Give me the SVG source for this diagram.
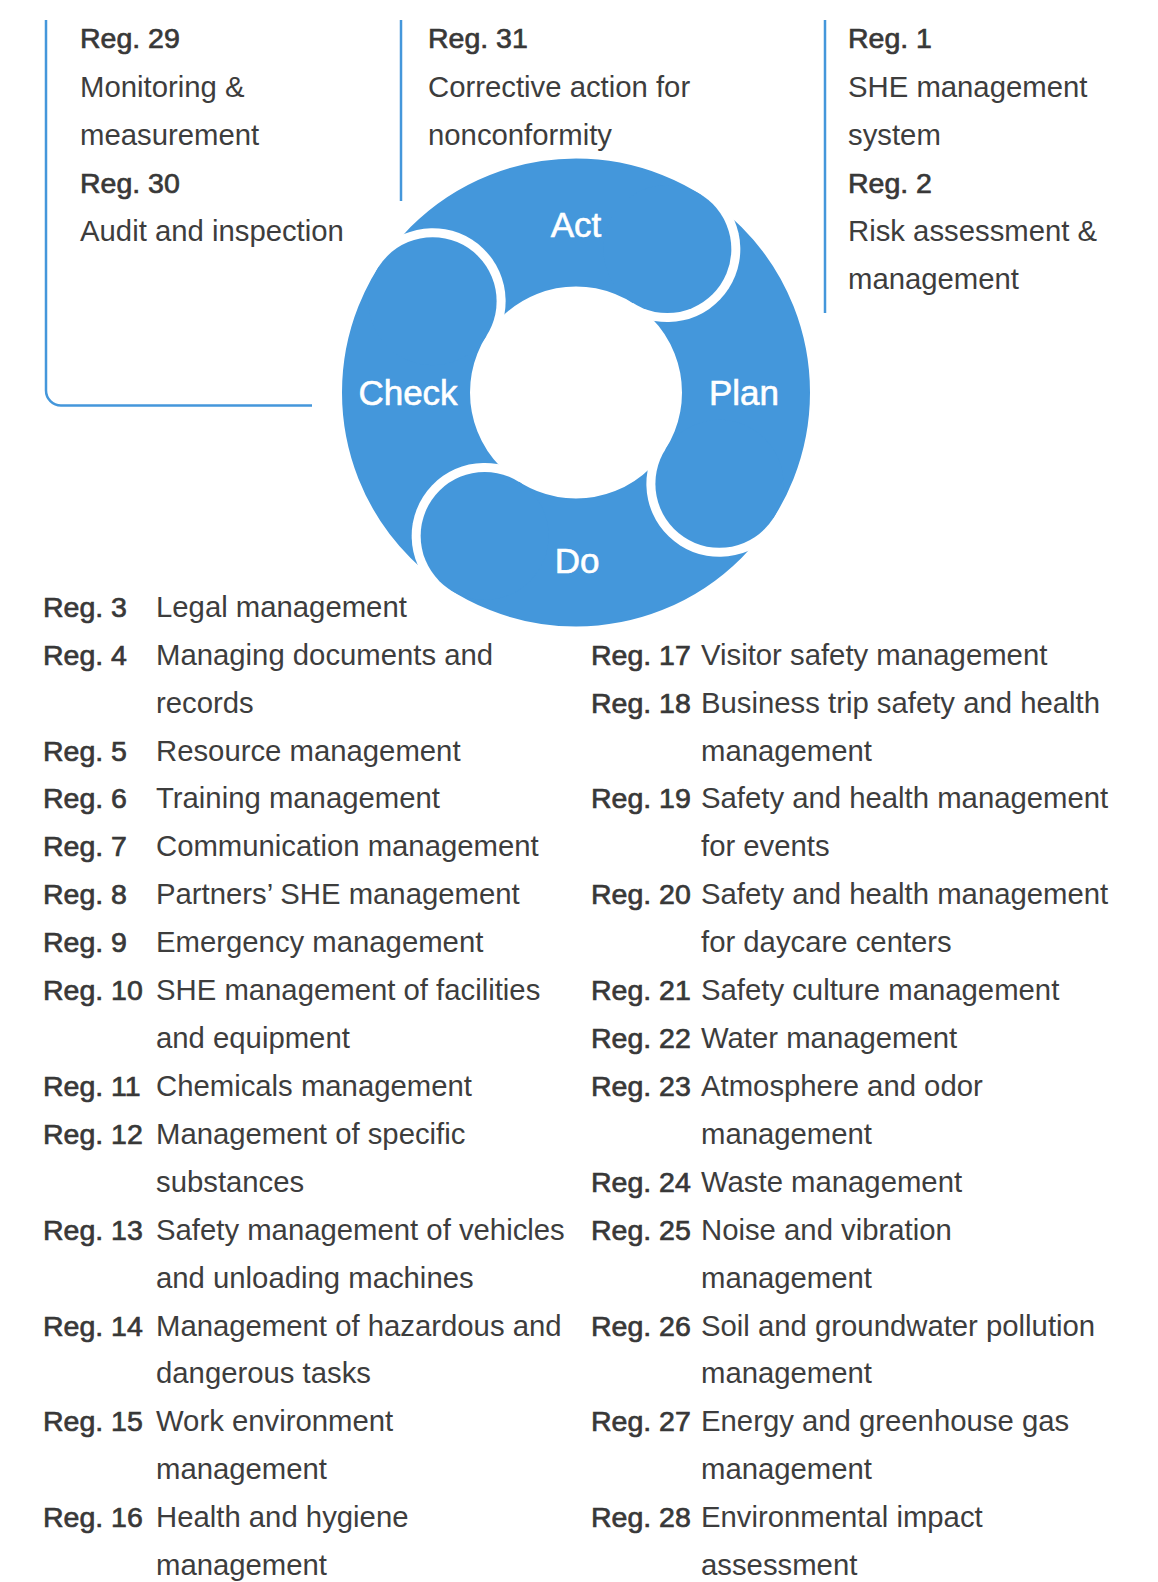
<svg xmlns="http://www.w3.org/2000/svg" width="1158" height="1582" viewBox="0 0 1158 1582">
<style>
.t{font-family:"Liberation Sans",Arial,sans-serif;font-size:29.3px;fill:#3d3d3d}
.r{font-family:"Liberation Sans",Arial,sans-serif;font-size:28.5px;fill:#383838;stroke:#383838;stroke-width:0.7px}
.p{font-family:"Liberation Sans",Arial,sans-serif;font-size:35px;fill:#ffffff;stroke:#ffffff;stroke-width:0.6px;text-anchor:middle}
.ln{fill:none;stroke:#4497DB;stroke-width:2.5}
.bl{fill:#4497DB}
.wh{fill:#ffffff}
</style>
<rect width="1158" height="1582" fill="#ffffff"/>
<g id="connectors">
<path class="ln" d="M46,20 V390.5 A15,15 0 0 0 61,405.5 H312"/>
<line class="ln" x1="401" y1="20" x2="401" y2="201"/>
<line class="ln" x1="825" y1="20" x2="825" y2="313"/>
</g>
<g id="cycle">
<circle cx="576" cy="392.5" r="170" fill="none" stroke="#4497DB" stroke-width="128"/>
<path class="wh" d="M706.56,187.55 A73,73 0 0 1 628.12,310.69 Z"/>
<circle class="bl" cx="667.34" cy="249.12" r="64"/>
<path class="wh" d="M371.05,261.94 A73,73 0 0 1 494.19,340.38 Z"/>
<circle class="bl" cx="432.62" cy="301.16" r="64"/>
<path class="wh" d="M445.44,597.45 A73,73 0 0 1 523.88,474.31 Z"/>
<circle class="bl" cx="484.66" cy="535.88" r="64"/>
<path class="wh" d="M780.95,523.06 A73,73 0 0 1 657.81,444.62 Z"/>
<circle class="bl" cx="719.38" cy="483.84" r="64"/>
</g>
<g id="act"><text class="p" x="576" y="237">Act</text></g>
<g id="plan"><text class="p" x="744" y="405">Plan</text></g>
<g id="do"><text class="p" x="577" y="573">Do</text></g>
<g id="check"><text class="p" x="408" y="405">Check</text></g>
<g id="top-left">
<text class="r" x="80" y="48.3">Reg. 29</text>
<text class="t" x="80" y="96.5">Monitoring &amp;</text>
<text class="t" x="80" y="144.5">measurement</text>
<text class="r" x="80" y="192.5">Reg. 30</text>
<text class="t" x="80" y="240.5">Audit and inspection</text>
</g>
<g id="top-middle">
<text class="r" x="428" y="48.3">Reg. 31</text>
<text class="t" x="428" y="96.5">Corrective action for</text>
<text class="t" x="428" y="144.5">nonconformity</text>
</g>
<g id="top-right">
<text class="r" x="848" y="48.3">Reg. 1</text>
<text class="t" x="848" y="96.5">SHE management</text>
<text class="t" x="848" y="144.5">system</text>
<text class="r" x="848" y="192.5">Reg. 2</text>
<text class="t" x="848" y="240.5">Risk assessment &amp;</text>
<text class="t" x="848" y="288.5">management</text>
</g>
<g id="list-left">
<text class="r" x="43" y="616.7">Reg. 3</text><text class="t" x="156" y="616.7">Legal management</text>
<text class="r" x="43" y="664.6">Reg. 4</text><text class="t" x="156" y="664.6">Managing documents and</text>
<text class="t" x="156" y="712.5">records</text>
<text class="r" x="43" y="760.5">Reg. 5</text><text class="t" x="156" y="760.5">Resource management</text>
<text class="r" x="43" y="808.4">Reg. 6</text><text class="t" x="156" y="808.4">Training management</text>
<text class="r" x="43" y="856.3">Reg. 7</text><text class="t" x="156" y="856.3">Communication management</text>
<text class="r" x="43" y="904.2">Reg. 8</text><text class="t" x="156" y="904.2">Partners’ SHE management</text>
<text class="r" x="43" y="952.1">Reg. 9</text><text class="t" x="156" y="952.1">Emergency management</text>
<text class="r" x="43" y="1000.1">Reg. 10</text><text class="t" x="156" y="1000.1">SHE management of facilities</text>
<text class="t" x="156" y="1048">and equipment</text>
<text class="r" x="43" y="1095.9">Reg. 11</text><text class="t" x="156" y="1095.9">Chemicals management</text>
<text class="r" x="43" y="1143.8">Reg. 12</text><text class="t" x="156" y="1143.8">Management of specific</text>
<text class="t" x="156" y="1191.7">substances</text>
<text class="r" x="43" y="1239.7">Reg. 13</text><text class="t" x="156" y="1239.7">Safety management of vehicles</text>
<text class="t" x="156" y="1287.6">and unloading machines</text>
<text class="r" x="43" y="1335.5">Reg. 14</text><text class="t" x="156" y="1335.5">Management of hazardous and</text>
<text class="t" x="156" y="1383.4">dangerous tasks</text>
<text class="r" x="43" y="1431.3">Reg. 15</text><text class="t" x="156" y="1431.3">Work environment</text>
<text class="t" x="156" y="1479.3">management</text>
<text class="r" x="43" y="1527.2">Reg. 16</text><text class="t" x="156" y="1527.2">Health and hygiene</text>
<text class="t" x="156" y="1575.1">management</text>
</g>
<g id="list-right">
<text class="r" x="591" y="664.6">Reg. 17</text><text class="t" x="701" y="664.6">Visitor safety management</text>
<text class="r" x="591" y="712.5">Reg. 18</text><text class="t" x="701" y="712.5">Business trip safety and health</text>
<text class="t" x="701" y="760.5">management</text>
<text class="r" x="591" y="808.4">Reg. 19</text><text class="t" x="701" y="808.4">Safety and health management</text>
<text class="t" x="701" y="856.3">for events</text>
<text class="r" x="591" y="904.2">Reg. 20</text><text class="t" x="701" y="904.2">Safety and health management</text>
<text class="t" x="701" y="952.1">for daycare centers</text>
<text class="r" x="591" y="1000.1">Reg. 21</text><text class="t" x="701" y="1000.1">Safety culture management</text>
<text class="r" x="591" y="1048">Reg. 22</text><text class="t" x="701" y="1048">Water management</text>
<text class="r" x="591" y="1095.9">Reg. 23</text><text class="t" x="701" y="1095.9">Atmosphere and odor</text>
<text class="t" x="701" y="1143.8">management</text>
<text class="r" x="591" y="1191.7">Reg. 24</text><text class="t" x="701" y="1191.7">Waste management</text>
<text class="r" x="591" y="1239.7">Reg. 25</text><text class="t" x="701" y="1239.7">Noise and vibration</text>
<text class="t" x="701" y="1287.6">management</text>
<text class="r" x="591" y="1335.5">Reg. 26</text><text class="t" x="701" y="1335.5">Soil and groundwater pollution</text>
<text class="t" x="701" y="1383.4">management</text>
<text class="r" x="591" y="1431.3">Reg. 27</text><text class="t" x="701" y="1431.3">Energy and greenhouse gas</text>
<text class="t" x="701" y="1479.3">management</text>
<text class="r" x="591" y="1527.2">Reg. 28</text><text class="t" x="701" y="1527.2">Environmental impact</text>
<text class="t" x="701" y="1575.1">assessment</text>
</g>
</svg>
